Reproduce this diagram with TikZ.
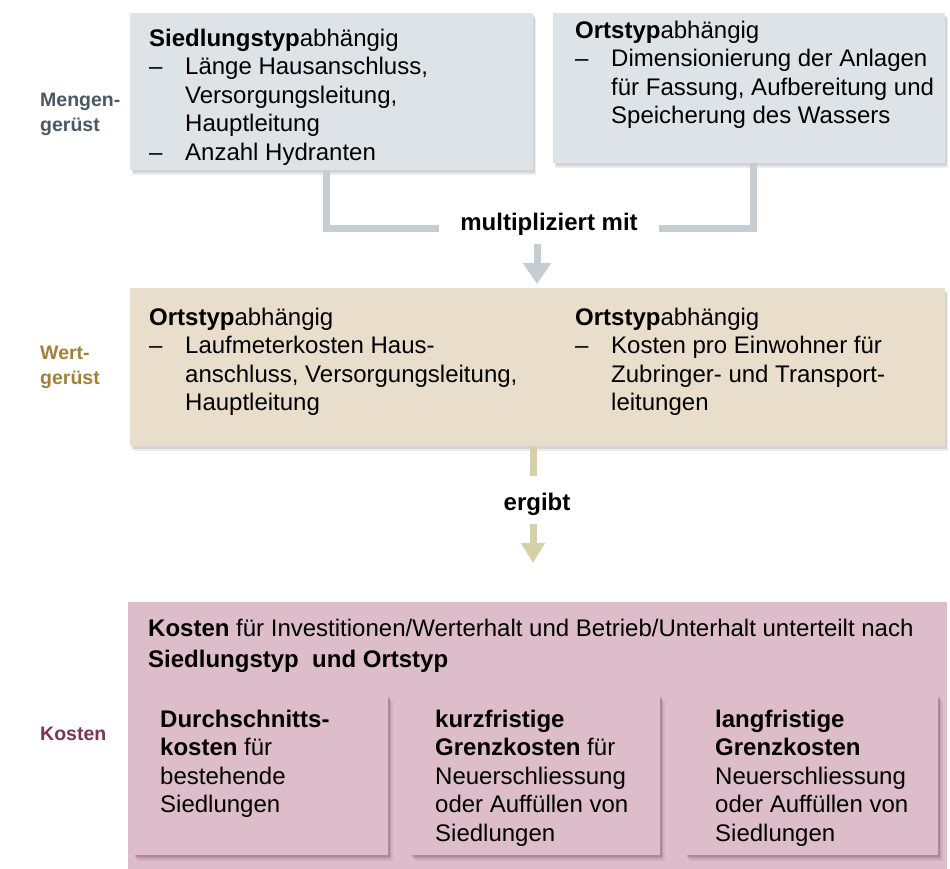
\documentclass[tikz,border=0pt]{standalone}
\usepackage{fontspec}
\setmainfont{Liberation Sans}
\usetikzlibrary{arrows.meta,shadows}
\definecolor{greybox}{HTML}{DDE3E7}
\definecolor{greyline}{HTML}{C5CDD2}
\definecolor{beigebox}{HTML}{E8DECB}
\definecolor{khaki}{HTML}{D6D0A8}
\definecolor{pinkbox}{HTML}{DDBDC9}
\definecolor{pinkdark}{HTML}{8E5A6E}
\definecolor{labmengen}{HTML}{4A5963}
\definecolor{labwert}{HTML}{A3803A}
\definecolor{labkosten}{HTML}{7A3652}
\newcommand\dsh{\makebox[36pt][l]{–}}
\newcommand\ind{\hspace*{36pt}}
\newcommand\fl{\rule{0pt}{20pt}}
\begin{document}
\begin{tikzpicture}[x=1pt,y=-1pt,
  boxst/.style={draw=none,inner sep=0pt,anchor=north west},
  softshadow/.style={drop shadow={shadow xshift=3pt,shadow yshift=-5pt,opacity=0.07,fill=black},
                     drop shadow={shadow xshift=1.5pt,shadow yshift=-2.5pt,opacity=0.1,fill=black}},
  innershadow/.style={drop shadow={shadow xshift=5pt,shadow yshift=-6pt,opacity=0.12,fill=pinkdark},
                      drop shadow={shadow xshift=3pt,shadow yshift=-4pt,opacity=0.22,fill=pinkdark},
                      drop shadow={shadow xshift=1.5pt,shadow yshift=-2pt,opacity=0.35,fill=pinkdark}},
  txt/.style={inner sep=0pt,anchor=north west,align=left,font=\fontsize{24}{28.5}\selectfont},
  ktxt/.style={inner sep=0pt,anchor=north west,align=left,font=\fontsize{24}{28.5}\selectfont},
  lab/.style={inner sep=0pt,anchor=north west,align=left,font=\fontsize{19.5}{25.5}\selectfont\bfseries},
  midtxt/.style={inner sep=0pt,font=\fontsize{24}{28}\selectfont\bfseries,text height=12pt,text depth=8pt},
  bracket/.style={draw=greyline,line width=7pt},
  garrow/.style={draw=greyline,line width=7pt,-{Triangle[width=27pt,length=21pt]}},
  karrow/.style={draw=khaki,line width=7pt,-{Triangle[width=23pt,length=20pt]}},
  kline/.style={draw=khaki,line width=7pt}
]
\useasboundingbox[fill=white] (0,0) rectangle (950,869);

% --- boxes
\node[boxst,softshadow,fill=greybox,minimum width=403pt,minimum height=157pt] (lb) at (130,13) {};
\node[boxst,softshadow,fill=greybox,minimum width=392pt,minimum height=150pt] (rb) at (553,13) {};
\node[boxst,softshadow,fill=beigebox,minimum width=815pt,minimum height=158pt] (wb) at (130,288) {};
\node[boxst,fill=pinkbox,minimum width=819pt,minimum height=267pt] (kb) at (128,602) {};
\node[boxst,innershadow,fill=pinkbox,minimum width=255pt,minimum height=160pt] (k1) at (133,695) {};
\node[boxst,innershadow,fill=pinkbox,minimum width=250pt,minimum height=160pt] (k2) at (410,695) {};
\node[boxst,innershadow,fill=pinkbox,minimum width=253pt,minimum height=160pt] (k3) at (685,695) {};

% --- row labels
\node[lab,text=labmengen] (lmengen) at (40,91) {\rule{0pt}{15pt}Mengen-\\gerüst};
\node[lab,text=labwert] (lwert) at (40,344) {\rule{0pt}{15pt}Wert-\\gerüst};
\node[lab,text=labkosten] (lkosten) at (40,725) {\rule{0pt}{15pt}Kosten};

% --- box texts
\node[txt] (lbt) at (149,26) {\fl\textbf{Siedlungstyp}abhängig\\
  \dsh Länge Hausanschluss,\\
  \ind Versorgungsleitung,\\
  \ind Hauptleitung\\
  \dsh Anzahl Hydranten};
\node[txt] (rbt) at (575,18) {\fl\textbf{Ortstyp}abhängig\\
  \dsh Dimensionierung der Anlagen\\
  \ind für Fassung, Aufbereitung und\\
  \ind Speicherung des Wassers};
\node[txt] (wlt) at (149,305) {\fl\textbf{Ortstyp}abhängig\\
  \dsh Laufmeterkosten Haus-\\
  \ind anschluss, Versorgungsleitung,\\
  \ind Hauptleitung};
\node[txt] (wrt) at (575,305) {\fl\textbf{Ortstyp}abhängig\\
  \dsh Kosten pro Einwohner für\\
  \ind Zubringer- und Transport-\\
  \ind leitungen};
\node[ktxt,font=\fontsize{24}{31}\selectfont] (kht) at (148,616) {\fl\textbf{Kosten} für Investitionen/Werterhalt und Betrieb/Unterhalt unterteilt nach\\
  \textbf{Siedlungstyp\ \ und Ortstyp}};
\node[ktxt] (k1t) at (160,707) {\fl\textbf{Durchschnitts-}\\
  \textbf{kosten} für\\
  bestehende\\
  Siedlungen};
\node[ktxt] (k2t) at (435,707) {\fl\textbf{kurzfristige}\\
  \textbf{Grenzkosten} für\\
  Neuerschliessung\\
  oder Auffüllen von\\
  Siedlungen};
\node[ktxt] (k3t) at (715,707) {\fl\textbf{langfristige}\\
  \textbf{Grenzkosten}\\
  Neuerschliessung\\
  oder Auffüllen von\\
  Siedlungen};

% --- connectors
\node[midtxt,inner xsep=21pt] (mult) at (549,228) {multipliziert mit};
\draw[bracket] ([xshift=-5pt]lb.south) |- (mult.west);
\draw[bracket] ([xshift=4pt]rb.south) |- (mult.east);
\coordinate (a1s) at (537,244);
\coordinate (a1e) at (537,284);
\draw[garrow] (a1s) -- (a1e);

\coordinate (stubend) at (533,476);
\draw[kline] (wb.south -| stubend) -- (stubend);
\node[midtxt] (erg) at (537,508) {ergibt};
\coordinate (a2s) at (533,524);
\coordinate (a2e) at (533,563);
\draw[karrow] (a2s) -- (a2e);
\end{tikzpicture}
\end{document}
